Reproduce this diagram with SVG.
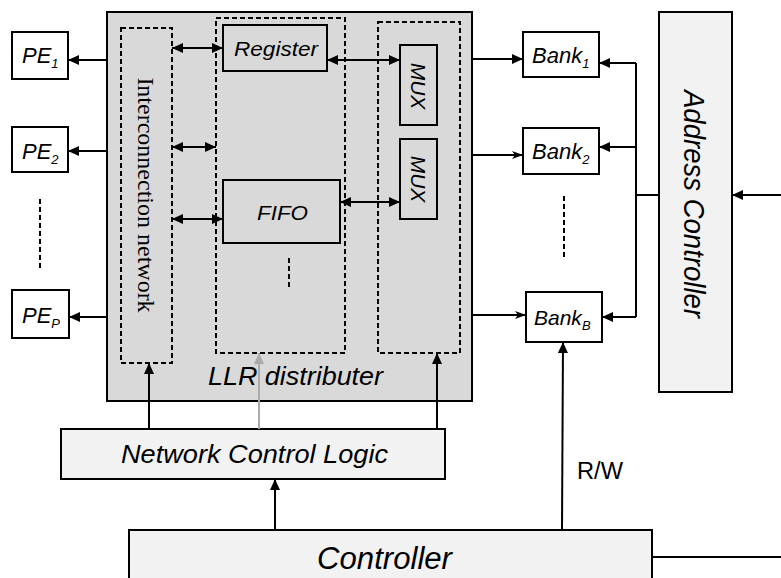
<svg xmlns="http://www.w3.org/2000/svg" width="781" height="578" viewBox="0 0 781 578">
<style>
.box{fill:#fff;stroke:#000;stroke-width:2}
.lt{fill:#f2f2f2;stroke:#000;stroke-width:2}
.dk{fill:#d9d9d9;stroke:#000;stroke-width:2}
.dash{fill:none;stroke:#000;stroke-width:2;stroke-dasharray:5,3}
.ln{fill:none;stroke:#000;stroke-width:2}
.t{font-family:"Liberation Sans",Arial,sans-serif;font-style:italic;fill:#000}
.s{font-family:"Liberation Serif","Times New Roman",serif;fill:#000}
.r{font-family:"Liberation Sans",Arial,sans-serif;fill:#000}
</style>
<defs>
<marker id="ah" markerUnits="userSpaceOnUse" markerWidth="12" markerHeight="10" refX="11" refY="5" orient="auto-start-reverse"><path d="M0,0 L11,5 L0,10 z" fill="#000"/></marker>
<marker id="ag" markerUnits="userSpaceOnUse" markerWidth="12" markerHeight="10" refX="11" refY="5" orient="auto"><path d="M0,0 L11,5 L0,10 z" fill="#aaa"/></marker>
<marker id="as" markerUnits="userSpaceOnUse" markerWidth="12" markerHeight="10" refX="11" refY="5" orient="auto"><path d="M0,1 L11,5 L0,9 L3,5 z" fill="#000"/></marker>
</defs>

<g id="llr">
<rect class="dk" x="107" y="12" width="365" height="389"/>
<text class="t" x="208" y="385" font-size="26" textLength="175" lengthAdjust="spacingAndGlyphs">LLR distributer</text>
</g>
<g id="interconnect">
<rect class="dash" x="121" y="28" width="51" height="335"/>
<text class="s" transform="translate(138,195) rotate(90)" text-anchor="middle" font-size="24">Interconnection network</text>
</g>
<g id="regfifo">
<rect class="dash" x="216" y="18" width="129" height="335"/>
<line class="dash" x1="289" y1="258" x2="289" y2="289"/>
</g>
<g id="register">
<rect class="box" x="223" y="25" width="104" height="46" style="fill:#d9d9d9"/>
<text class="t" x="234" y="56" font-size="21" textLength="84" lengthAdjust="spacingAndGlyphs">Register</text>
</g>
<g id="fifo">
<rect class="box" x="223" y="180" width="117" height="63" style="fill:#d9d9d9"/>
<text class="t" x="257" y="220" font-size="21" textLength="51" lengthAdjust="spacingAndGlyphs">FIFO</text>
</g>
<g id="muxgroup">
<rect class="dash" x="378" y="22" width="82" height="331"/>
</g>
<g id="mux1">
<rect class="box" x="400" y="45" width="37" height="80" style="fill:#d9d9d9"/>
<text class="t" transform="translate(411,86) rotate(90)" text-anchor="middle" font-size="21">MUX</text>
</g>
<g id="mux2">
<rect class="box" x="400" y="139" width="37" height="80" style="fill:#d9d9d9"/>
<text class="t" transform="translate(411,179) rotate(90)" text-anchor="middle" font-size="21">MUX</text>
</g>

<g id="pe1">
<rect class="box" x="12" y="32" width="56" height="47"/>
<text class="t" x="22" y="63" font-size="22">PE<tspan font-size="13" dy="5">1</tspan></text>
</g>
<g id="pe2">
<rect class="box" x="12" y="127" width="56" height="45"/>
<text class="t" x="22" y="159" font-size="22">PE<tspan font-size="13" dy="5">2</tspan></text>
</g>
<g id="pep">
<rect class="box" x="12" y="290" width="57" height="48"/>
<text class="t" x="22" y="323" font-size="22">PE<tspan font-size="13" dy="5">P</tspan></text>
</g>
<line class="dash" x1="40" y1="199" x2="40" y2="269"/>

<g id="bank1">
<rect class="box" x="523" y="32" width="76" height="45"/>
<text class="t" x="532" y="63" font-size="22">Bank<tspan font-size="13" dy="5">1</tspan></text>
</g>
<g id="bank2">
<rect class="box" x="523" y="128" width="76" height="46"/>
<text class="t" x="532" y="159" font-size="22">Bank<tspan font-size="13" dy="5">2</tspan></text>
</g>
<g id="bankb">
<rect class="box" x="526" y="292" width="76" height="50"/>
<text class="t" x="534" y="325" font-size="21">Bank<tspan font-size="13" dy="5">B</tspan></text>
</g>
<line class="dash" x1="564" y1="196" x2="564" y2="260"/>

<g id="addr">
<rect class="lt" x="659" y="12" width="73" height="380"/>
<text class="t" transform="translate(684,204) rotate(90)" text-anchor="middle" font-size="29" textLength="228" lengthAdjust="spacingAndGlyphs">Address Controller</text>
</g>
<g id="ncl">
<rect class="lt" x="61" y="429" width="384" height="50"/>
<text class="t" x="121" y="463" font-size="26" textLength="267" lengthAdjust="spacingAndGlyphs">Network Control Logic</text>
</g>
<g id="controller">
<rect class="lt" x="129" y="530" width="523" height="60"/>
<text class="t" x="317" y="569" font-size="31" textLength="135" lengthAdjust="spacingAndGlyphs">Controller</text>
</g>

<g id="connectors">
<line class="ln" x1="107" y1="60" x2="68" y2="60" marker-end="url(#ah)"/>
<line class="ln" x1="107" y1="151" x2="68" y2="151" marker-end="url(#ah)"/>
<line class="ln" x1="107" y1="317" x2="69" y2="317" marker-end="url(#ah)"/>
<line class="ln" x1="172" y1="48" x2="223" y2="48" marker-start="url(#ah)" marker-end="url(#ah)"/>
<line class="ln" x1="172" y1="147" x2="216" y2="147" marker-start="url(#ah)" marker-end="url(#ah)"/>
<line class="ln" x1="172" y1="219" x2="223" y2="219" marker-start="url(#ah)" marker-end="url(#ah)"/>
<line class="ln" x1="327" y1="60" x2="400" y2="60" marker-start="url(#ah)" marker-end="url(#ah)"/>
<line class="ln" x1="340" y1="202" x2="400" y2="202" marker-start="url(#ah)" marker-end="url(#ah)"/>
<line class="ln" x1="472" y1="59" x2="523" y2="59" marker-end="url(#ah)"/>
<line class="ln" x1="472" y1="155" x2="523" y2="155" marker-end="url(#as)"/>
<line class="ln" x1="472" y1="315" x2="526" y2="315" marker-end="url(#as)"/>
<polyline class="ln" points="636,63 636,317"/>
<line class="ln" x1="636" y1="63" x2="599" y2="63" marker-end="url(#ah)"/>
<line class="ln" x1="636" y1="147" x2="599" y2="147" marker-end="url(#ah)"/>
<line class="ln" x1="636" y1="317" x2="602" y2="317" marker-end="url(#ah)"/>
<line class="ln" x1="636" y1="195" x2="659" y2="195"/>
<line class="ln" x1="781" y1="195" x2="732" y2="195" marker-end="url(#ah)"/>
<line class="ln" x1="149" y1="429" x2="149" y2="363" marker-end="url(#ah)"/>
<line x1="259" y1="429" x2="259" y2="353" stroke="#aaa" stroke-width="2" marker-end="url(#ag)"/>
<line class="ln" x1="437" y1="429" x2="437" y2="353" marker-end="url(#ah)"/>
<line class="ln" x1="275" y1="530" x2="275" y2="479" marker-end="url(#ah)"/>
<line class="ln" x1="562" y1="530" x2="563" y2="342" marker-end="url(#ah)"/>
<text class="r" x="577" y="479" font-size="23" textLength="46" lengthAdjust="spacingAndGlyphs">R/W</text>
<line class="ln" x1="652" y1="557" x2="781" y2="557"/>
</g>
</svg>
